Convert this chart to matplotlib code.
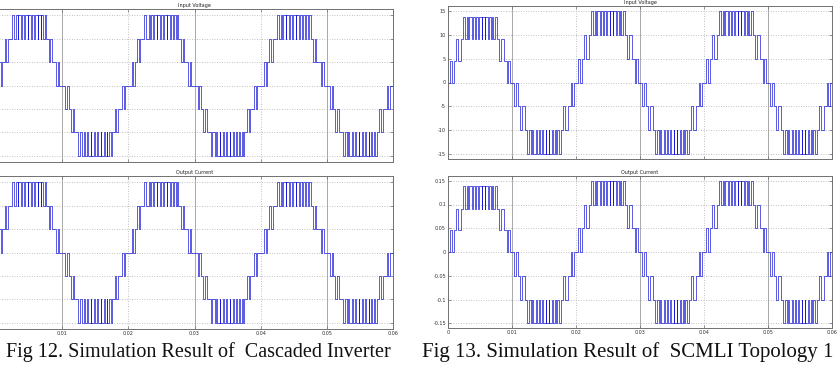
import matplotlib.pyplot as plt
import numpy as np

# time axis (s)
x_ticks = [0, 0.01, 0.02, 0.03, 0.04, 0.05, 0.06]
x_tick_labels = ["0", "0.01", "0.02", "0.03", "0.04", "0.05", "0.06"]
half_cycle_ms = 10
n_half_cycles = 6

# Cascaded inverter: switching edges inside one half cycle (ms) and level index after each edge
casc_edge_ms = [0.50, 0.75, 0.98,
                1.30, 1.58, 1.82,
                2.42, 2.70, 3.05, 3.25, 3.40,
                3.80, 3.90, 4.30, 4.40, 4.80, 4.90, 5.30, 5.40,
                5.80, 5.90, 6.30, 6.40, 6.75, 6.85,
                7.15, 7.35, 7.55,
                7.95, 8.20, 8.42,
                9.05, 9.30, 9.52]
casc_edge_level = [1, 0, 1,
                   2, 1, 2,
                   3, 2, 3, 2, 3,
                   2, 3, 2, 3, 2, 3, 2, 3,
                   2, 3, 2, 3, 2, 3,
                   2, 3, 2,
                   1, 2, 1,
                   0, 1, 0]
casc_levels = [0, 1, 2, 3]
casc_y_ticks = [-3, -2, -1, 0, 1, 2, 3]

# SCMLI topology 1
scmli_edge_ms = [0.30, 0.60, 0.90,
                 1.20, 1.60, 2.05,
                 2.40, 2.65, 2.95, 3.15, 3.35,
                 3.75, 3.85, 4.25, 4.35, 4.75, 4.85, 5.25, 5.35,
                 5.75, 5.85, 6.25, 6.35, 6.75, 6.85,
                 7.10, 7.35, 7.60,
                 7.95, 8.35, 8.75,
                 9.20, 9.45, 9.70]
scmli_edge_level = [1, 0, 1,
                    2, 1, 2,
                    3, 2, 3, 2, 3,
                    2, 3, 2, 3, 2, 3, 2, 3,
                    2, 3, 2, 3, 2, 3,
                    2, 3, 2,
                    1, 2, 1,
                    0, 1, 0]
scmli_volt_levels = [0, 5, 10, 15]
scmli_volt_first = [0, 4.6, 9.0, 13.8]      # first half cycle, capacitors still charging
scmli_curr_levels = [0, 0.05, 0.10, 0.15]
scmli_curr_first = [0, 0.046, 0.090, 0.138]
scmli_v_ticks = [-15, -10, -5, 0, 5, 10, 15]
scmli_v_tick_labels = ["-15", "-10", "-5", "0", "5", "10", "15"]
scmli_i_ticks = [-0.15, -0.1, -0.05, 0, 0.05, 0.1, 0.15]
scmli_i_tick_labels = ["-0.15", "-0.1", "-0.05", "0", "0.05", "0.1", "0.15"]

captions = ["Fig 12. Simulation Result of  Cascaded Inverter",
            "Fig 13. Simulation Result of  SCMLI Topology 1"]

WAVE = "#1a1ad8"
GRID = "#ababab"
FRAME = "#707070"
TXT = "#303030"


def waveform(edge_ms, edge_level, levels, first_levels=None):
    t, y = [], []
    for k in range(n_half_cycles):
        t0 = k * half_cycle_ms
        sign = 1 if k % 2 == 0 else -1
        lv = first_levels if (k == 0 and first_levels is not None) else levels
        t.append(t0)
        y.append(0.0)
        for e, l in zip(edge_ms, edge_level):
            t.append(t0 + e)
            y.append(sign * lv[l])
    t.append(n_half_cycles * half_cycle_ms)
    y.append(y[-1])
    return np.array(t) / 1000.0, np.array(y)


def scope_axes(ax, yticks, ylim, title, show_x, show_y, ylabels=None, xlabels=x_tick_labels):
    ax.set_xlim(0, 0.06)
    ax.set_ylim(*ylim)
    ax.set_xticks(x_ticks)
    ax.set_xticklabels(xlabels)
    ax.set_yticks(yticks)
    if ylabels is not None:
        ax.set_yticklabels(ylabels)
    for yv in yticks:
        ax.axhline(yv, color=GRID, lw=0.6, ls=(0, (1, 2)), zorder=0)
    for i, xv in enumerate(x_ticks[1:-1], start=1):
        if i % 2 == 1:
            ax.axvline(xv, color="#9a9a9a", lw=0.6, zorder=0)
        else:
            ax.axvline(xv, color=GRID, lw=0.6, ls=(0, (1, 2)), zorder=0)
    ax.tick_params(direction="in", length=2, width=0.5, colors=FRAME,
                   labelsize=3.5, labelcolor=TXT, pad=1.5,
                   top=True, right=True,
                   labelbottom=show_x, labelleft=show_y)
    for s in ax.spines.values():
        s.set_color(FRAME)
        s.set_linewidth(0.7)
    ax.set_title(title, fontsize=3.5, color="#202020", pad=1.5)


fig = plt.figure(figsize=(8.4, 3.7), dpi=100)

# left figure: cascaded inverter (its y labels and x=0 fall outside the picture)
left_x_labels = [""] + x_tick_labels[1:]
ax1 = fig.add_axes([-4 / 840, 1 - 162 / 370, 397 / 840, 153 / 370])
ax2 = fig.add_axes([-4 / 840, 1 - 329 / 370, 397 / 840, 153 / 370])
t, v = waveform(casc_edge_ms, casc_edge_level, casc_levels)
for ax, title, show_x in [(ax1, "Input Voltage", False), (ax2, "Output Current", True)]:
    ax.plot(t, v, drawstyle="steps-post", color=WAVE, lw=0.5)
    scope_axes(ax, casc_y_ticks, (-3.26, 3.26), title, show_x, False, xlabels=left_x_labels)

# right figure: SCMLI topology 1
ax3 = fig.add_axes([448 / 840, 1 - 159 / 370, 384 / 840, 153 / 370])
ax4 = fig.add_axes([448 / 840, 1 - 328 / 370, 384 / 840, 152 / 370])
t, v = waveform(scmli_edge_ms, scmli_edge_level, scmli_volt_levels, scmli_volt_first)
ax3.plot(t, v, drawstyle="steps-post", color=WAVE, lw=0.5)
scope_axes(ax3, scmli_v_ticks, (-16, 16), "Input Voltage", False, True, scmli_v_tick_labels)
t, i = waveform(scmli_edge_ms, scmli_edge_level, scmli_curr_levels, scmli_curr_first)
ax4.plot(t, i, drawstyle="steps-post", color=WAVE, lw=0.5)
scope_axes(ax4, scmli_i_ticks, (-0.16, 0.16), "Output Current", True, True, scmli_i_tick_labels)

fig.text(198 / 840, 1 - 352 / 370, captions[0], ha="center", va="center",
         fontsize=14.5, family="Liberation Serif", color="#111111")
fig.text(628 / 840, 1 - 352 / 370, captions[1], ha="center", va="center",
         fontsize=15, family="Liberation Serif", color="#111111")

fig.savefig("out.png", dpi=100)
